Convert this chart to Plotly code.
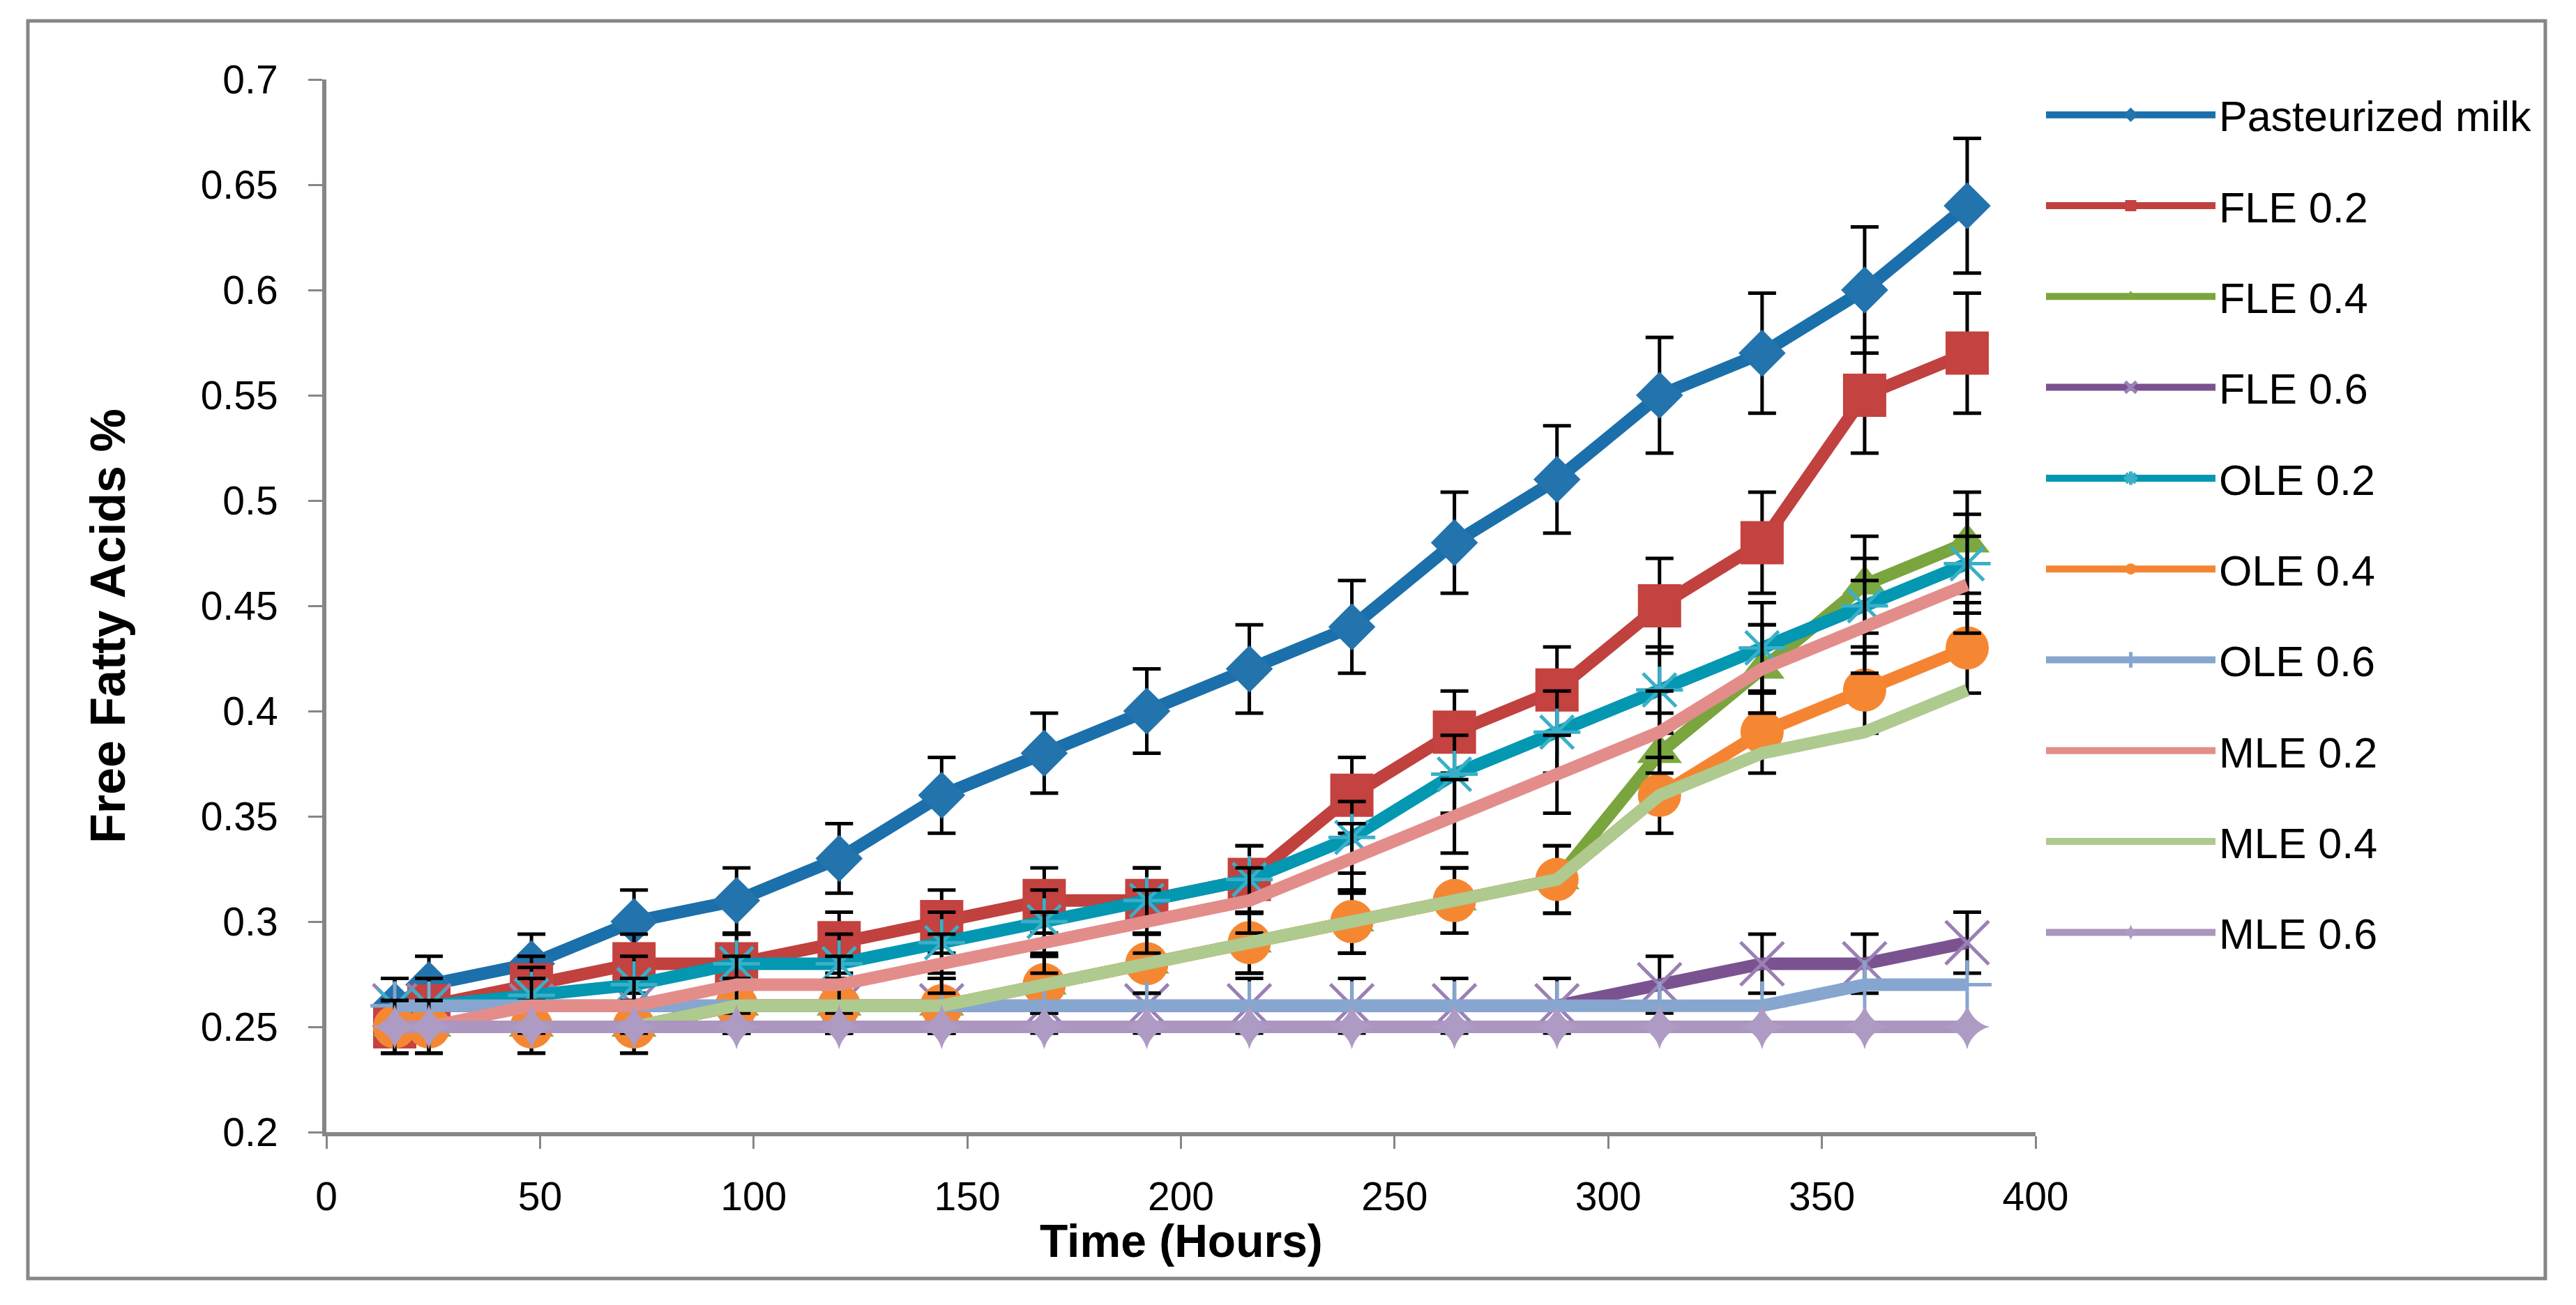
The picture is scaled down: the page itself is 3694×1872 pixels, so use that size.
import plotly.graph_objects as go

# ---- data ----
time_h = [16, 24, 48, 72, 96, 120, 144, 168, 192, 216, 240, 264, 288, 312, 336, 360, 384]

pasteurized = [0.26, 0.27, 0.28, 0.30, 0.31, 0.33, 0.36, 0.38, 0.40, 0.42, 0.44, 0.48, 0.51, 0.55, 0.57, 0.60, 0.64]
fle_02 = [0.25, 0.26, 0.27, 0.28, 0.28, 0.29, 0.30, 0.31, 0.31, 0.32, 0.36, 0.39, 0.41, 0.45, 0.48, 0.55, 0.57]
fle_04 = [0.25, 0.25, 0.25, 0.25, 0.26, 0.26, 0.26, 0.27, 0.28, 0.29, 0.30, 0.31, 0.32, 0.38, 0.42, 0.46, 0.48]
fle_06 = [0.26, 0.26, 0.26, 0.26, 0.26, 0.26, 0.26, 0.26, 0.26, 0.26, 0.26, 0.26, 0.26, 0.27, 0.28, 0.28, 0.29]
ole_02 = [0.26, 0.26, 0.265, 0.27, 0.28, 0.28, 0.29, 0.30, 0.31, 0.32, 0.34, 0.37, 0.39, 0.41, 0.43, 0.45, 0.47]
ole_04 = [0.25, 0.25, 0.25, 0.25, 0.26, 0.26, 0.26, 0.27, 0.28, 0.29, 0.30, 0.31, 0.32, 0.36, 0.39, 0.41, 0.43]
ole_06 = [0.26, 0.26, 0.26, 0.26, 0.26, 0.26, 0.26, 0.26, 0.26, 0.26, 0.26, 0.26, 0.26, 0.26, 0.26, 0.27, 0.27]
mle_02 = [0.25, 0.25, 0.26, 0.26, 0.27, 0.27, 0.28, 0.29, 0.30, 0.31, 0.33, 0.35, 0.37, 0.39, 0.42, 0.44, 0.46]
mle_04 = [0.25, 0.25, 0.25, 0.25, 0.26, 0.26, 0.26, 0.27, 0.28, 0.29, 0.30, 0.31, 0.32, 0.36, 0.38, 0.39, 0.41]
mle_06 = [0.25, 0.25, 0.25, 0.25, 0.25, 0.25, 0.25, 0.25, 0.25, 0.25, 0.25, 0.25, 0.25, 0.25, 0.25, 0.25, 0.25]

names = ["Pasteurized milk", "FLE 0.2", "FLE 0.4", "FLE 0.6", "OLE 0.2",
         "OLE 0.4", "OLE 0.6", "MLE 0.2", "MLE 0.4", "MLE 0.6"]
series = [pasteurized, fle_02, fle_04, fle_06, ole_02, ole_04, ole_06, mle_02, mle_04, mle_06]

x_ticks = [0, 50, 100, 150, 200, 250, 300, 350, 400]
y_ticks = [0.2, 0.25, 0.3, 0.35, 0.4, 0.45, 0.5, 0.55, 0.6, 0.65, 0.7]
x_title = "Time (Hours)"
y_title = "Free Fatty Acids %"

# ---- styles ----
colors = ["#1B6FAA", "#C0413E", "#7AA53E", "#7A5290", "#0397B2",
          "#F58432", "#86A6CF", "#E38D8B", "#AECA8F", "#AA96BE"]
marker_colors = ["#2373AD", "#C4423F", "#7BA83F", "#9A80B4", "#3AAFC8",
                 "#F58733", "#86A6CF", "#E38D8B", "#AECA8F", "#AE9BC3"]
symbols = ["diamond", "square", "triangle-up", "x-thin-open", "asterisk-open",
           "circle", "cross-thin-open", None, None, "star-diamond"]
sizes = [52, 62, 56, 62, 56, 62, 50, 0, 0, 46]
err_pct = [5, 5, 5, 5, 5, 5, None, 5, None, None]

FONT = "Liberation Sans, Arial, sans-serif"
W, H = 3694, 1872
L, R, T, B = 468, 775, 114, 248
pw, ph = W - L - R, H - T - B

fig = go.Figure()
for nm, ys, c, mc, sym, sz, ep in zip(names, series, colors, marker_colors, symbols, sizes, err_pct):
    tr = dict(x=time_h, y=ys, name=nm, legendgroup=nm,
              line=dict(color=c, width=18))
    if sym is None:
        tr["mode"] = "lines"
    else:
        tr["mode"] = "lines+markers"
        if sym.endswith("-open"):
            tr["marker"] = dict(symbol=sym, size=sz, color=mc, line=dict(color=mc, width=5))
        else:
            tr["marker"] = dict(symbol=sym, size=sz, color=mc, line=dict(width=0))
    if ep is not None:
        tr["error_y"] = dict(type="percent", value=ep, color="black", thickness=5, width=20)
    fig.add_trace(go.Scatter(**tr))

axis_gray = "#868686"
fig.update_xaxes(range=[0, 400], tickvals=x_ticks, showline=True, linecolor=axis_gray, linewidth=6,
                 ticks="outside", ticklen=18, tickwidth=3, tickcolor=axis_gray,
                 showgrid=False, zeroline=False, ticklabelstandoff=20,
                 tickfont=dict(family=FONT, size=57, color="black"))
fig.update_yaxes(range=[0.2, 0.7], tickvals=y_ticks, showline=True, linecolor=axis_gray, linewidth=6,
                 ticks="outside", ticklen=20, tickwidth=3, tickcolor=axis_gray,
                 showgrid=False, zeroline=False, ticklabelstandoff=32,
                 tickfont=dict(family=FONT, size=57, color="black"))

# pixel -> paper conversion helpers
def px_x(p):
    return (p - L) / pw

def px_y(p):
    return (H - B - p) / ph

# axis titles
fig.add_annotation(text=x_title, xref="paper", yref="paper", x=0.5, y=px_y(1780),
                   xanchor="center", yanchor="middle", showarrow=False,
                   font=dict(family=FONT, size=66, color="black", weight="bold"))
fig.add_annotation(text=y_title, xref="paper", yref="paper", x=px_x(155), y=px_y(898),
                   xanchor="center", yanchor="middle", showarrow=False, textangle=-90,
                   font=dict(family=FONT, size=70, color="black", weight="bold"))

# outer frame
fig.add_shape(type="rect", xref="paper", yref="paper",
              x0=px_x(40), x1=px_x(3650), y0=px_y(1834), y1=px_y(30),
              line=dict(color=axis_gray, width=5), fillcolor="rgba(0,0,0,0)", layer="below")

fig.update_layout(
    width=W, height=H,
    margin=dict(l=L, r=R, t=T, b=B, autoexpand=False),
    paper_bgcolor="white", plot_bgcolor="white",
    font=dict(family=FONT, size=61, color="black"),
    showlegend=True,
    legend=dict(x=px_x(2929), y=0.997, xanchor="left", yanchor="top",
                font=dict(family=FONT, size=61, color="black"),
                tracegroupgap=48, itemwidth=243, bgcolor="rgba(0,0,0,0)",
                traceorder="grouped", maxheight=1700),
)

fig.write_html("out.html", config={"displayModeBar": False},
               post_script="document.body.style.margin='0';")
